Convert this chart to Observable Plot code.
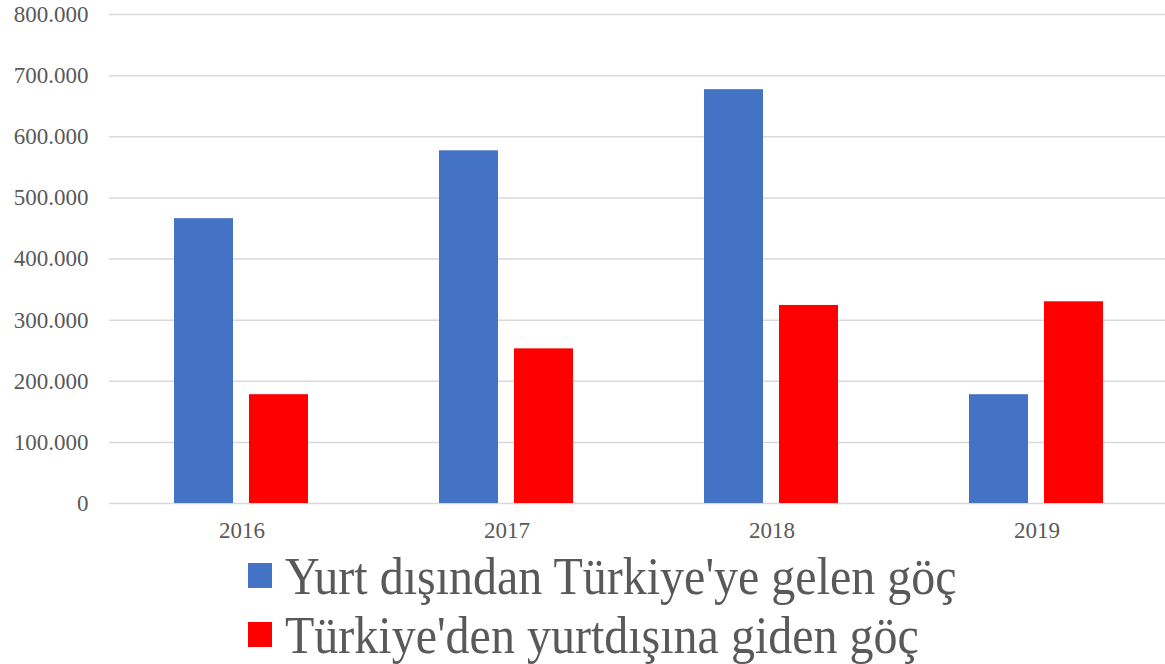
<!DOCTYPE html>
<html>
<head>
<meta charset="utf-8">
<script src="https://cdn.jsdelivr.net/npm/d3@7"></script>
<script src="https://cdn.jsdelivr.net/npm/@observablehq/plot@0.6"></script>
<style>
  html, body { margin: 0; padding: 0; background: #fff; }
  #chart { position: relative; width: 1165px; }
  svg text { font-family: "Liberation Serif", Tinos, "DejaVu Serif", serif; }
  .legend { font-family: "Liberation Serif", Tinos, "DejaVu Serif", serif; color: #595959; font-size: 48px; margin-left: 248px; margin-top: 0px; }
  .legend .row { display: flex; align-items: center; height: 59px; }
  .legend .sw { width: 24px; height: 25px; margin-right: 13px; flex: none; }
  .legend .txt { display: inline-block; transform: scaleY(1.1); transform-origin: center; }
</style>
</head>
<body>
<div id="chart"></div>
<script>
const years = ["2016", "2017", "2018", "2019"];
const seriesNames = ["Yurt dışından Türkiye'ye gelen göç", "Türkiye'den yurtdışına giden göç"];
const seriesColors = ["#4472C4", "#FF0000"];
const gelen = [466000, 577000, 677000, 178000];
const giden = [178000, 253000, 324000, 330000];
const yTicks = [0, 100000, 200000, 300000, 400000, 500000, 600000, 700000, 800000];

const data = [];
years.forEach((y, i) => {
  data.push({year: y, series: seriesNames[0], value: gelen[i]});
  data.push({year: y, series: seriesNames[1], value: giden[i]});
});

const trFormat = d3.formatLocale({decimal: ",", thousands: ".", grouping: [3], currency: ["", ""]}).format(",");

const plot = Plot.plot({
  width: 1165,
  height: 546,
  marginLeft: 108,
  marginRight: 0,
  marginTop: 14,
  marginBottom: 43,
  style: {fontFamily: "'Liberation Serif', Tinos, 'DejaVu Serif', serif", background: "#fff"},
  fx: {domain: years, range: [108.25, 1170.25], padding: 0, label: null},
  x: {domain: seriesNames, paddingInner: 0.212, paddingOuter: 0.864, axis: null},
  y: {domain: [0, 800000], label: null},
  color: {domain: seriesNames, range: seriesColors},
  marks: [
    Plot.ruleY(yTicks, {stroke: "#d9d9d9", strokeWidth: 1.5}),
    Plot.barY(data, {fx: "year", x: "series", y: "value", fill: "series", inset: 0}),
    Plot.axisY(yTicks, {tickSize: 0, tickPadding: 21, tickFormat: trFormat, fontSize: 23, fill: "#595959", anchor: "left", label: null}),
    Plot.axisFx({anchor: "bottom", tickSize: 0, tickPadding: 18, fontSize: 23, fill: "#595959", label: null})
  ]
});
document.getElementById("chart").appendChild(plot);

const legend = document.createElement("div");
legend.className = "legend";
seriesNames.forEach((n, i) => {
  const row = document.createElement("div");
  row.className = "row";
  const sw = document.createElement("span");
  sw.className = "sw";
  sw.style.background = seriesColors[i];
  const t = document.createElement("span");
  t.className = "txt";
  t.textContent = n;
  row.appendChild(sw);
  row.appendChild(t);
  legend.appendChild(row);
});
document.getElementById("chart").appendChild(legend);
</script>
</body>
</html>
